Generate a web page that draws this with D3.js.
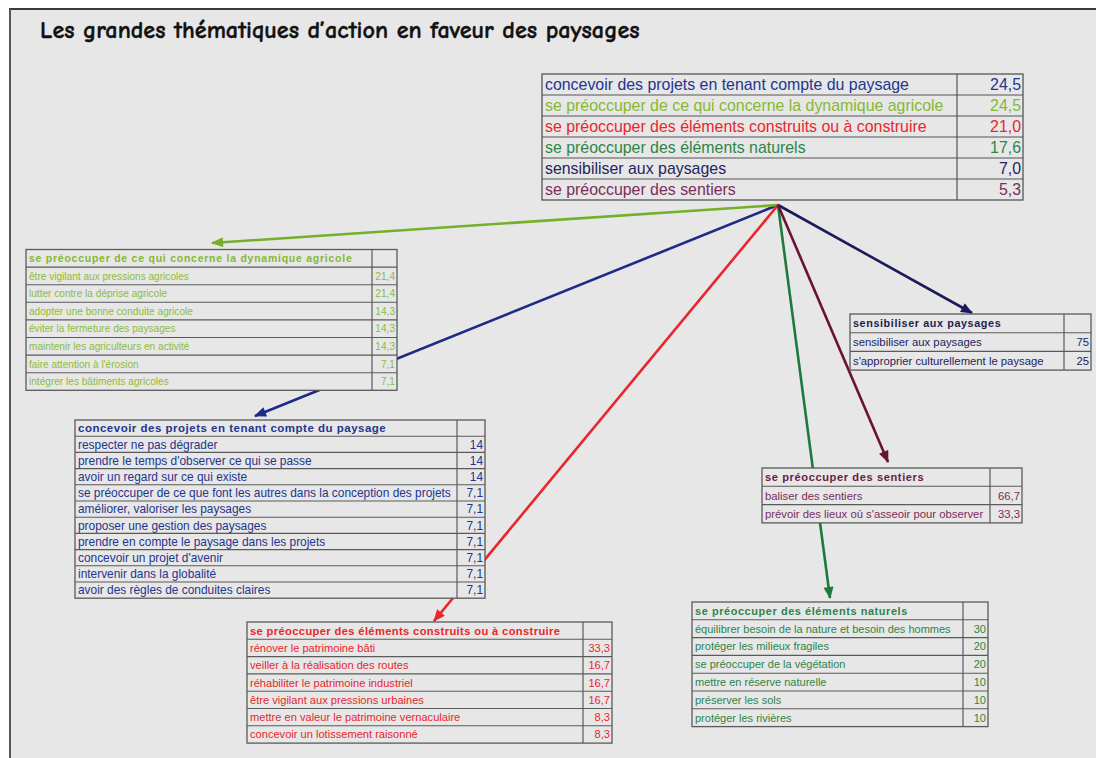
<!DOCTYPE html>
<html><head><meta charset="utf-8">
<script src="https://cdn.jsdelivr.net/npm/d3@7/dist/d3.min.js"></script>
<style>body{margin:0;background:#fff;} svg{display:block;}</style>
</head><body>
<svg id="chart" width="1096" height="758"></svg>
<script>
// ---------------- DATA ----------------
const title = "Les grandes thématiques d’action en faveur des paysages";

const themes = [
  "concevoir des projets en tenant compte du paysage",
  "se préoccuper de ce qui concerne la dynamique agricole",
  "se préoccuper des éléments construits ou à construire",
  "se préoccuper des éléments naturels",
  "sensibiliser aux paysages",
  "se préoccuper des sentiers"
];
const themeValues = [24.5, 24.5, 21.0, 17.6, 7.0, 5.3];
const themeColors = ["#23358f", "#86b833", "#e8262b", "#2e8548", "#24245e", "#7a2c5c"];
const arrowColors = ["#1d2a86", "#74b02a", "#e8262b", "#1d7a3c", "#1b1b5c", "#6a1236"];

const agriLabels = [
  "être vigilant aux pressions agricoles",
  "lutter contre la déprise agricole",
  "adopter une bonne conduite agricole",
  "éviter la fermeture des paysages",
  "maintenir les agriculteurs en activité",
  "faire attention à l'érosion",
  "intégrer les bâtiments agricoles"
];
const agriValues = [21.4, 21.4, 14.3, 14.3, 14.3, 7.1, 7.1];

const conceptLabels = [
  "respecter ne pas dégrader",
  "prendre le temps d'observer ce qui se passe",
  "avoir un regard sur ce qui existe",
  "se préoccuper de ce que font les autres dans la conception des projets",
  "améliorer, valoriser les paysages",
  "proposer une gestion des paysages",
  "prendre en compte le paysage dans les projets",
  "concevoir un projet d'avenir",
  "intervenir dans la globalité",
  "avoir des règles de conduites claires"
];
const conceptValues = [14, 14, 14, 7.1, 7.1, 7.1, 7.1, 7.1, 7.1, 7.1];

const builtLabels = [
  "rénover le patrimoine bâti",
  "veiller à la réalisation des routes",
  "réhabiliter le patrimoine industriel",
  "être vigilant aux pressions urbaines",
  "mettre en valeur le patrimoine vernaculaire",
  "concevoir un lotissement raisonné"
];
const builtValues = [33.3, 16.7, 16.7, 16.7, 8.3, 8.3];

const naturalLabels = [
  "équilibrer besoin de la nature et besoin des hommes",
  "protéger les milieux fragiles",
  "se préoccuper de la végétation",
  "mettre en réserve naturelle",
  "préserver les sols",
  "protéger les rivières"
];
const naturalValues = [30, 20, 20, 10, 10, 10];

const awareLabels = ["sensibiliser aux paysages", "s'approprier culturellement le paysage"];
const awareValues = [75, 25];

const pathLabels = ["baliser des sentiers", "prévoir des lieux où s'asseoir pour observer"];
const pathValues = [66.7, 33.3];

// ---------------- LAYOUT ----------------
const svg = d3.select("#chart");
const BG = "#e7e7e7";

svg.append("rect").attr("x", 10).attr("y", 9).attr("width", 1090).attr("height", 752).attr("fill", BG);
svg.append("line").attr("x1", 9).attr("x2", 1096).attr("y1", 9).attr("y2", 9).attr("stroke", "#3a3a3a").attr("stroke-width", 2);
svg.append("line").attr("x1", 10).attr("x2", 10).attr("y1", 9).attr("y2", 758).attr("stroke", "#555").attr("stroke-width", 2);

// title
const t = svg.append("text").attr("x", 40).attr("y", 38)
  .attr("font-family", "'Comic Sans MS','Comic Neue','DejaVu Sans',sans-serif")
  .attr("font-weight", "bold").attr("font-size", 20).attr("fill", "#111")
  .attr("stroke", "#111").attr("stroke-width", 0.4).text(title);
const tw = t.node().getComputedTextLength();
t.attr("font-size", 20 * 600 / tw);

const fmtMain = v => d3.format(".1f")(v).replace(".", ",");
const fmtSub = v => String(v).replace(".", ",");

// arrows (one per theme, same order as themes)
const origin = [778, 205];
const arrowTargets = [[255, 416], [212, 243], [434, 621], [830, 598], [972, 313], [888, 462]];
const defs = svg.append("defs");
arrowColors.forEach((c, i) => {
  defs.append("marker").attr("id", "ah" + i)
    .attr("viewBox", "0 0 12 10").attr("refX", 11).attr("refY", 5)
    .attr("markerWidth", 13).attr("markerHeight", 10).attr("markerUnits", "userSpaceOnUse")
    .attr("orient", "auto")
    .append("path").attr("d", "M0,0 L12,5 L0,10 Z").attr("fill", c);
});
svg.append("g").selectAll("line").data(arrowTargets).join("line")
  .attr("x1", origin[0]).attr("y1", origin[1])
  .attr("x2", d => d[0]).attr("y2", d => d[1])
  .attr("stroke", (d, i) => arrowColors[i]).attr("stroke-width", 2.6)
  .attr("marker-end", (d, i) => `url(#ah${i})`);

// generic table drawer
function drawTable(opt) {
  const rows = (opt.header ? [opt.header] : []).concat(opt.labels);
  const vals = (opt.header ? [null] : []).concat(opt.values);
  const cols = (opt.header ? [opt.headerColor || opt.color] : []).concat(opt.labels.map((d, i) => Array.isArray(opt.color) ? opt.color[i] : opt.color));
  const y = d3.scaleBand().domain(d3.range(rows.length)).range([opt.y, opt.y + opt.rowH * rows.length]).padding(0);
  const g = svg.append("g");
  const x0 = opt.x, x1 = opt.x + opt.w, xd = x1 - opt.valW;
  g.append("rect").attr("x", x0).attr("y", opt.y).attr("width", opt.w).attr("height", opt.rowH * rows.length)
    .attr("fill", BG).attr("stroke", opt.border).attr("stroke-width", 1.3);
  g.selectAll("line.sep").data(d3.range(1, rows.length)).join("line").attr("class", "sep")
    .attr("x1", x0).attr("x2", x1).attr("y1", d => y(d)).attr("y2", d => y(d))
    .attr("stroke", opt.border).attr("stroke-width", 1.1);
  g.append("line").attr("x1", xd).attr("x2", xd).attr("y1", opt.y).attr("y2", opt.y + opt.rowH * rows.length)
    .attr("stroke", opt.border).attr("stroke-width", 1.2);
  g.selectAll("text.lab").data(rows).join("text").attr("class", "lab")
    .attr("x", x0 + 3).attr("y", (d, i) => y(i) + y.bandwidth() / 2)
    .attr("dy", "0.36em")
    .attr("font-family", "'Liberation Sans', Arial, sans-serif")
    .attr("font-size", (d, i) => (opt.header && i === 0) ? opt.headerFont : opt.font)
    .attr("font-weight", (d, i) => (opt.header && i === 0) ? "bold" : "normal")
    .attr("letter-spacing", (d, i) => (opt.header && i === 0) ? opt.headerSpacing : 0)
    .attr("fill", (d, i) => cols[i]).text(d => d);
  g.selectAll("text.val").data(vals).join("text").attr("class", "val")
    .attr("x", x1 - 2).attr("y", (d, i) => y(i) + y.bandwidth() / 2)
    .attr("dy", "0.36em").attr("text-anchor", "end")
    .attr("font-family", "'Liberation Sans', Arial, sans-serif")
    .attr("font-size", opt.font)
    .attr("fill", (d, i) => cols[i]).text(d => d === null ? "" : opt.fmt(d));
}

drawTable({ labels: themes, values: themeValues, color: themeColors, fmt: fmtMain,
  x: 542, y: 74, w: 481, valW: 66, rowH: 21, font: 15.9, border: "#555" });

drawTable({ header: themes[1], labels: agriLabels, values: agriValues, color: "#8cbd38", headerColor: themeColors[1], fmt: fmtSub,
  x: 26, y: 249.5, w: 371, valW: 25, rowH: 17.6, font: 10.1, headerFont: 10.5, headerSpacing: 0.75, border: "#5a5a5a" });

drawTable({ header: themes[0], labels: conceptLabels, values: conceptValues, color: themeColors[0], fmt: fmtSub,
  x: 75, y: 420, w: 410, valW: 28, rowH: 16.2, font: 11.9, headerFont: 11.5, headerSpacing: 0.5, border: "#5a5a5a" });

drawTable({ header: themes[2], labels: builtLabels, values: builtValues, color: themeColors[2], fmt: fmtSub,
  x: 247, y: 622, w: 365, valW: 29, rowH: 17.3, font: 11.1, headerFont: 11.1, headerSpacing: 0.4, border: "#5a5a5a" });

drawTable({ header: themes[3], labels: naturalLabels, values: naturalValues, color: themeColors[3], fmt: fmtSub,
  x: 692, y: 602, w: 296, valW: 25, rowH: 17.8, font: 11, headerFont: 10.9, headerSpacing: 0.6, border: "#5a5a5a" });

drawTable({ header: themes[5], labels: pathLabels, values: pathValues, color: themeColors[5], fmt: fmtSub,
  x: 762, y: 468, w: 260, valW: 32, rowH: 18.3, font: 11.3, headerFont: 11.1, headerSpacing: 0.6, border: "#5a5a5a", headerColor: "#6a1a45" });

drawTable({ header: themes[4], labels: awareLabels, values: awareValues, color: themeColors[4], fmt: fmtSub,
  x: 850, y: 314, w: 241, valW: 27, rowH: 18.7, font: 11.3, headerFont: 10.8, headerSpacing: 0.6, border: "#5a5a5a", headerColor: "#1f1f4f" });
</script>
</body></html>
